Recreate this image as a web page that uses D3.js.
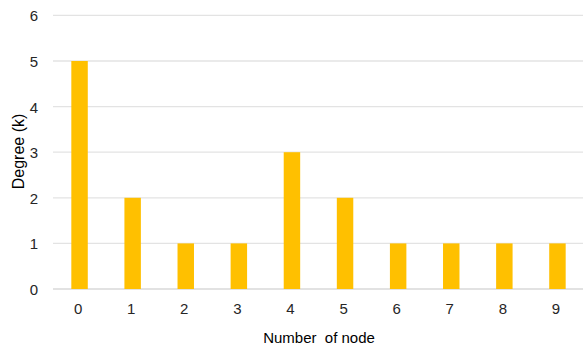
<!DOCTYPE html>
<html>
<head>
<meta charset="utf-8">
<script src="https://cdn.jsdelivr.net/npm/d3@7"></script>
<style>
  html, body { margin: 0; padding: 0; background: #fff; }
  svg { display: block; font-family: "Liberation Sans", Arial, sans-serif; }
</style>
</head>
<body>
<svg id="chart" width="583" height="345"></svg>
<script>
// Node indices and their degree values
const nodes = ["0", "1", "2", "3", "4", "5", "6", "7", "8", "9"];
const degrees = [5, 2, 1, 1, 3, 2, 1, 1, 1, 1];
const yTicks = [0, 1, 2, 3, 4, 5, 6];

const svg = d3.select("#chart");
const W = 583, H = 345;
const plot = { left: 53, right: 584, top: 15.4, bottom: 289 };

const x = d3.scaleBand()
  .domain(nodes)
  .range([plot.left, plot.right])
  .paddingInner(0.69)
  .paddingOuter(0.345);

const y = d3.scaleLinear()
  .domain([0, 6])
  .range([plot.bottom, plot.top]);

// Horizontal gridlines
svg.append("g")
  .selectAll("line")
  .data(yTicks)
  .join("line")
  .attr("x1", plot.left)
  .attr("x2", W)
  .attr("y1", d => y(d))
  .attr("y2", d => y(d))
  .attr("stroke", d => d === 0 ? "#d9d9d9" : "#e3e3e3")
  .attr("stroke-width", 1.3);

// Bars
svg.append("g")
  .selectAll("rect")
  .data(nodes)
  .join("rect")
  .attr("x", d => x(d))
  .attr("width", x.bandwidth())
  .attr("y", (d, i) => y(degrees[i]))
  .attr("height", (d, i) => y(0) - y(degrees[i]))
  .attr("fill", "#FFC000");

// Y tick labels
const yAxis = d3.axisLeft(y).tickValues(yTicks).tickFormat(d3.format("d")).tickSize(0).tickPadding(0);
const gy = svg.append("g").attr("transform", "translate(38,0)").call(yAxis);
gy.select(".domain").remove();
gy.attr("font-size", 15).attr("font-family", "Liberation Sans, Arial, sans-serif");
gy.selectAll("text")
  .attr("fill", "#262626")
  .attr("dy", "0.36em");

// X tick labels
const xAxis = d3.axisBottom(x).tickSize(0).tickPadding(0);
const gx = svg.append("g").attr("transform", "translate(-1.5,303)").call(xAxis);
gx.select(".domain").remove();
gx.attr("font-size", 15).attr("font-family", "Liberation Sans, Arial, sans-serif");
gx.selectAll("text")
  .attr("fill", "#262626")
  .attr("dy", "0.71em");

// Axis titles
svg.append("text")
  .attr("x", 319)
  .attr("y", 343)
  .attr("text-anchor", "middle")
  .attr("font-size", 15)
  .attr("fill", "#000")
  .attr("xml:space", "preserve")
  .text("Number  of node");

svg.append("text")
  .attr("transform", "translate(23.5,151.5) rotate(-90)")
  .attr("text-anchor", "middle")
  .attr("font-size", 16)
  .attr("fill", "#000")
  .text("Degree (k)");
</script>
</body>
</html>
